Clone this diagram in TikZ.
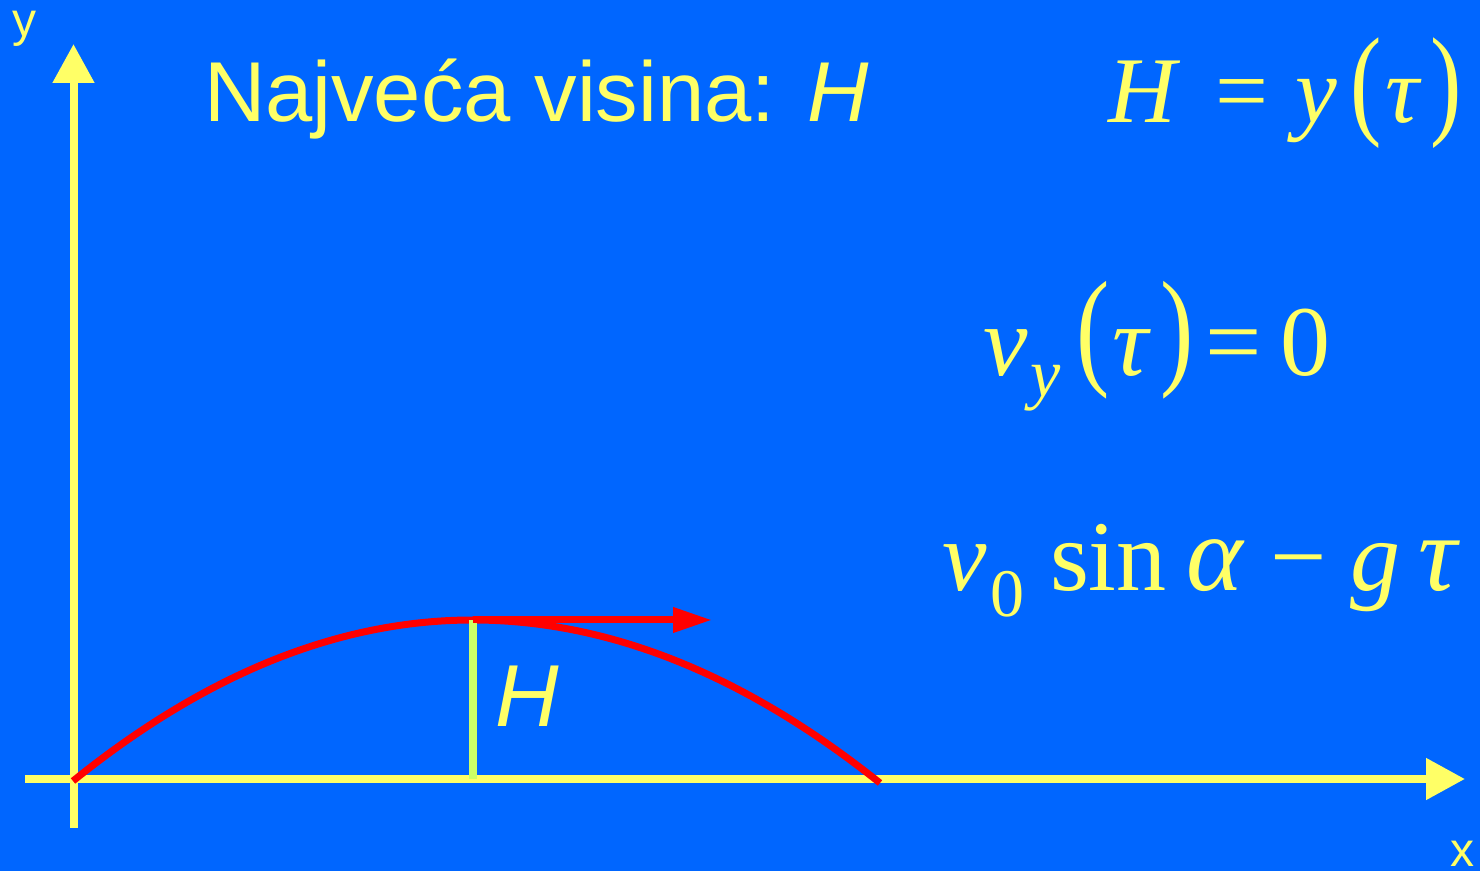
\documentclass[tikz,border=0pt]{standalone}
\usepackage{fontspec}
\usepackage{graphicx}
\setmainfont{Liberation Sans}
\newfontfamily\tnr{Liberation Serif}
\usetikzlibrary{arrows.meta}
\definecolor{bgblue}{HTML}{0066FF}
\definecolor{fgyellow}{HTML}{FFFF66}
\definecolor{hgreen}{HTML}{CCFF66}
\definecolor{trajred}{HTML}{FF0000}
\tikzset{
  lbl/.style={text=fgyellow, inner sep=0pt, outer sep=0pt, anchor=base west},
  sanslbl/.style={lbl, font=\fontsize{42.5}{50}\selectfont},
  smalllbl/.style={lbl, font=\fontsize{24}{28}\selectfont},
  mathA/.style={lbl, font=\tnr\fontsize{47}{52}\selectfont},
  mathB/.style={lbl, font=\tnr\fontsize{50}{56}\selectfont},
  mathsub/.style={lbl, font=\tnr\fontsize{34}{40}\selectfont},
  axisline/.style={draw=fgyellow, line width=4pt, -{Triangle[length=19.5pt,width=20pt]}},
  trajline/.style={draw=trajred, line width=3.5pt},
  hline/.style={draw=hgreen, line width=4pt},
  velarrow/.style={draw=trajred, line width=3.5pt, -{Triangle[length=19.5pt,width=12pt]}}
}
\begin{document}
\begin{tikzpicture}[x=0.5pt,y=-0.5pt]
\fill[bgblue] (0,0) rectangle (1480,871);
\useasboundingbox (0,0) rectangle (1480,871);
% axes
\coordinate (yb) at (73.5,828);
\coordinate (yt) at (73.5,44);
\coordinate (xb) at (25,779);
\coordinate (xt) at (1465,779);
\draw[axisline] (yb) -- (yt);
\draw[axisline] (xb) -- (xt);
% trajectory
\coordinate (o) at (73,781);
\coordinate (top) at (473,620);
\coordinate (land) at (880,783);
\coordinate (hb) at (473,779);
\coordinate (vt) at (712,620);
\draw[trajline] (o) .. controls (206,673.7) and (339,620) .. (top)
  .. controls (608,620) and (744,674.3) .. (land);
\draw[hline] (top) -- (hb);
\draw[velarrow] (top) -- (vt);
% labels
\node[sanslbl] (title) at (204,122) {Najveća visina: \textit{H}};
\node[smalllbl] (ylab) at (12,37) {y};
\node[smalllbl] (xlab) at (1450,867) {x};
\node[sanslbl, font=\fontsize{44}{50}\selectfont\itshape] (hlab) at (495,727) {H};
% H = y(tau)
\node[mathA] (f1H) at (1108,123) {\textit{H}};
\node[mathA] (f1eq) at (1215,123) {=};
\node[mathA] (f1y) at (1295,123) {\textit{y}};
\node[mathA] (f1lp) at (1350,123) {\scalebox{1}[1.3]{(}};
\node[mathA] (f1tau) at (1385,123) {\textit{τ}};
\node[mathA] (f1rp) at (1430,123) {\scalebox{1}[1.3]{)}};
% v_y(tau) = 0
\node[mathB] (f2v) at (983,376) {\textit{v}};
\node[mathsub] (f2y) at (1030,397) {\textit{y}};
\node[mathB] (f2lp) at (1076,372) {\scalebox{1}[1.3]{(}};
\node[mathB] (f2tau) at (1112,376) {\textit{τ}};
\node[mathB] (f2rp) at (1160,372) {\scalebox{1}[1.3]{)}};
\node[mathB] (f2eq) at (1205,376) {=};
\node[mathB] (f2z) at (1280,376) {0};
% v0 sin alpha - g tau
\node[mathB] (f3v) at (942,591) {\textit{v}};
\node[mathsub] (f3z) at (990,617) {0};
\node[mathB] (f3sin) at (1050,591) {sin};
\node[mathB, font=\tnr\fontsize{54}{60}\selectfont] (f3a) at (1186,591) {\textit{α}};
\node[mathB] (f3m) at (1270,591) {−};
\node[mathB] (f3g) at (1350,591) {\textit{g}};
\node[mathB, font=\tnr\fontsize{54}{60}\selectfont] (f3tau) at (1418,591) {\textit{τ}};
\end{tikzpicture}
\end{document}
